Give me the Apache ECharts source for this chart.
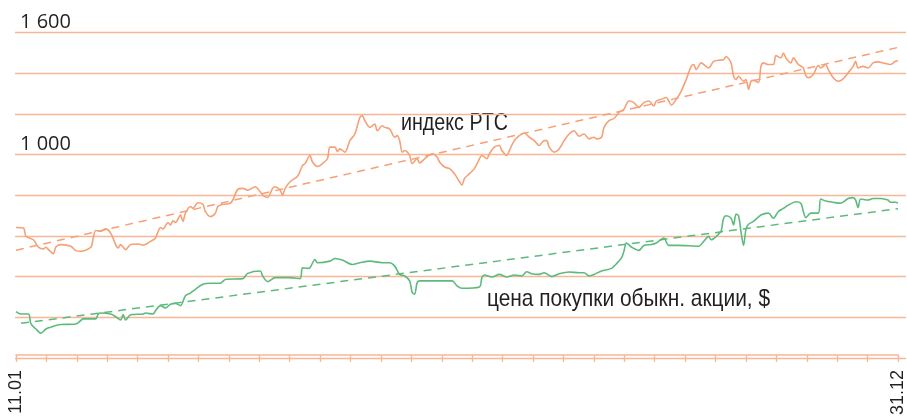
<!DOCTYPE html>
<html>
<head>
<meta charset="utf-8">
<script src="https://cdn.jsdelivr.net/npm/echarts@6/dist/echarts.min.js"></script>
<style>
html,body{margin:0;padding:0;background:#fff;}
#c{width:907px;height:418px;}
</style>
</head>
<body>
<div id="c"></div>
<script>
// Day-of-year positions (11.01 = 11, 31.12 = 365)
const rtsDays = [
11,14,15,18,20,22,23,24,26,27,
29,33,35,37,41,42,43,45,47,49,
51,52,53,55,57,60,62,65,67,69,
70,72,73,74,75,77,78,79,81,82,
84,86,87,89,91,92,94,97,98,100,
102,104,107,109,110,112,114,115,117,118,
119,121,124,126,127,129,130,132,134,136,
137,139,140,141,143,145,147,149,150,151,
153,155,156,158,159,161,163,164,165,166,
167,169,170,172,173,175,178,180,181,183,
185,187,189,190,191,193,195,197,198,200,
201,203,205,206,208,209,211,213,215,217,
219,221,223,224,225,227,229,231,233,235,
237,239,241,243,244,246,247,249,251,253,
254,255,257,259,261,263,265,267,268,270,
272,273,274,276,278,280,282,283,284,286,
287,289,291,293,295,296,298,299,300,301,
303,304,305,306,307,309,310,311,313,315,
316,318,319,320,322,323,325,327,328,329,
331,333,334,336,337,339,341,343,345,347,
348,349,351,353,355,357,359,362,364,365];
// RTS index values
const rtsValues = [
633,630,589,572,535,526,535,523,503,536,
548,540,518,515,535,581,618,614,626,605,
548,531,548,523,548,551,545,564,581,633,
626,658,646,666,658,695,663,704,737,728,
756,748,712,687,704,737,748,753,769,822,
827,818,835,810,794,782,827,835,818,794,
827,860,887,941,950,990,958,936,950,974,
1032,1032,1010,1023,1007,1064,1097,1179,1187,1163,
1130,1146,1113,1138,1130,1122,1081,1089,1064,1007,
1015,990,950,974,953,974,999,983,958,933,
925,900,860,843,876,900,925,974,990,974,
999,1032,1040,1015,990,1015,1064,1089,1102,1081,
1064,1040,1064,1064,1032,1007,1023,1064,1097,1113,
1086,1097,1073,1081,1073,1081,1130,1163,1174,1204,
1212,1220,1261,1253,1229,1253,1261,1236,1261,1269,
1278,1261,1240,1269,1310,1368,1433,1442,1417,1450,
1442,1425,1458,1463,1466,1482,1450,1384,1368,1384,
1359,1368,1319,1359,1364,1352,1433,1450,1442,1442,
1486,1475,1499,1475,1450,1475,1442,1425,1387,1376,
1392,1437,1425,1442,1417,1376,1359,1371,1401,1433,
1458,1425,1433,1425,1450,1455,1450,1442,1458,1461];

const priceDays = [
11,13,16,17,19,21,23,25,27,29,
35,37,38,43,44,45,49,51,53,54,
55,57,62,63,66,67,69,71,73,75,
77,79,81,83,86,89,93,95,102,104,
109,110,112,115,121,125,126,128,129,131,
132,137,139,142,146,149,153,158,161,163,
165,167,169,170,171,172,173,186,188,190,
197,198,199,202,205,208,211,214,216,218,
221,223,226,229,233,237,239,241,243,246,
250,252,254,255,256,258,261,263,266,268,
271,273,277,285,287,289,290,293,294,295,
296,298,299,300,301,302,303,304,305,307,
310,313,315,317,319,321,324,326,327,328,
330,333,334,336,339,342,345,347,348,349,
350,353,355,358,361,362,364,365];
// share purchase price (plotted in chart units)
const priceValues = [
215,203,203,154,129,108,129,138,146,151,
154,171,179,179,203,208,203,190,174,200,
174,200,203,208,203,220,245,233,252,256,
245,294,307,326,351,356,356,375,379,405,
417,392,364,384,384,379,433,430,433,474,
458,466,479,471,449,458,466,458,458,441,
400,392,368,310,302,359,368,368,343,331,
338,384,397,387,400,387,397,392,413,403,
400,408,389,403,412,408,408,392,400,417,
430,453,482,515,556,536,519,544,548,556,
581,544,544,540,564,589,572,600,614,679,
691,679,646,699,691,610,544,625,649,663,
695,704,679,712,728,744,761,753,712,682,
704,704,774,764,758,753,777,781,769,732,
774,769,777,777,769,758,758,755];

// linear trends
const rtsTrendDays = [11, 365];
const rtsTrendValues = [520, 1527];
const priceTrendDays = [13, 365];
const priceTrendValues = [157, 726];

// axis labels
const yLabels = {1000: '1 000', 1600: '1 600'};
const xTickCount = 29;
const xLabels = {0: '11.01', 29: '31.12'};

const annRts = 'индекс РТС';
const annPrice = 'цена покупки обыкн. акции, $';

const pair = (d, v) => d.map((x, i) => [x, v[i]]);

const ORANGE = '#f5a077';
const GREEN = '#5dba7e';
const GRID = '#f8b694';
const TEXT = '#231f20';
const SANS = "'Liberation Sans',Arial,sans-serif";

const chart = echarts.init(document.getElementById('c'), null, {renderer: 'canvas'});
chart.setOption({
  backgroundColor: '#fff',
  animation: false,
  grid: [
    {left: 15, right: 1, top: 32.7, bottom: 60},
    {left: 16, right: 7, top: 32.7, bottom: 60}
  ],
  xAxis: [
    {type: 'value', gridIndex: 1, min: 11, max: 365, show: false},
    {type: 'value', gridIndex: 1, min: 0, max: xTickCount, interval: 1, position: 'bottom',
     axisLine: {show: true, onZero: false, lineStyle: {color: GRID, width: 1.6}},
     axisTick: {show: true, length: 7, lineStyle: {color: GRID, width: 1.3}},
     splitLine: {show: false},
     axisLabel: {show: true, rotate: 90, margin: 15, color: TEXT,
       fontFamily: SANS, fontSize: 18,
       formatter: v => xLabels[v] || ''}},
    {type: 'value', gridIndex: 0, min: 0, max: 1, show: false}
  ],
  yAxis: [
    {type: 'value', gridIndex: 0, min: 0, max: 1600, interval: 200,
     axisLine: {show: false}, axisTick: {show: false},
     splitLine: {show: true, lineStyle: {color: GRID, width: 1.3}},
     axisLabel: {show: true, inside: true, margin: 5, verticalAlign: 'bottom',
       color: TEXT, fontFamily: "'Open Sans',sans-serif", fontSize: 20,
       formatter: v => yLabels[v] || ''}},
    {type: 'value', gridIndex: 1, min: 0, max: 1600, show: false}
  ],
  series: [
    {type: 'line', xAxisIndex: 0, yAxisIndex: 1, data: pair(rtsTrendDays, rtsTrendValues),
     showSymbol: false, lineStyle: {color: ORANGE, width: 1.5, type: [8, 6]}},
    {type: 'line', xAxisIndex: 0, yAxisIndex: 1, data: pair(priceTrendDays, priceTrendValues),
     showSymbol: false, lineStyle: {color: GREEN, width: 1.5, type: [8, 6]}},
    {type: 'line', xAxisIndex: 0, yAxisIndex: 1, data: pair(rtsDays, rtsValues),
     showSymbol: false, smooth: 0.3, lineStyle: {color: ORANGE, width: 1.6}},
    {type: 'line', xAxisIndex: 0, yAxisIndex: 1, data: pair(priceDays, priceValues),
     showSymbol: false, smooth: 0.3, lineStyle: {color: GREEN, width: 1.6}}
  ],
  graphic: [
    {type: 'text', x: 401, y: 111, scaleX: 0.82,
     style: {text: annRts, fill: TEXT, font: "24px " + SANS}},
    {type: 'text', x: 487, y: 287, scaleX: 0.87,
     style: {text: annPrice, fill: TEXT, font: "24px " + SANS}}
  ]
});
</script>
</body>
</html>
